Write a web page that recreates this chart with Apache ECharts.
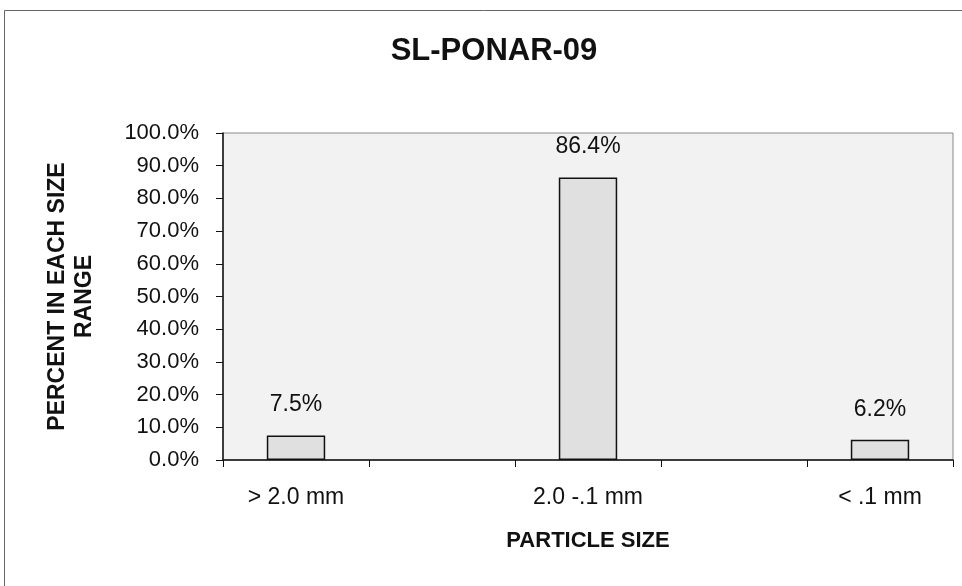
<!DOCTYPE html>
<html>
<head>
<meta charset="utf-8">
<script src="https://cdn.jsdelivr.net/npm/echarts@6/dist/echarts.min.js"></script>
<style>
  html, body { margin: 0; padding: 0; background: #ffffff; }
  #chart { width: 962px; height: 586px; }
</style>
</head>
<body>
<div id="chart"></div>
<script>
// Particle size distribution for sample SL-PONAR-09
const chartTitle = 'SL-PONAR-09';
const sizeClasses = ['> 2.0 mm', '2.0 -.1 mm', '< .1 mm'];
const percentInRange = [7.5, 86.4, 6.2];
const yTicks = { min: 0, max: 100, step: 10 };
const xTitle = 'PARTICLE SIZE';
const yTitle = 'PERCENT IN EACH SIZE\nRANGE';

// The category axis leaves an empty slot between each size class
const axisSlots = [];
const barValues = [];
sizeClasses.forEach((name, i) => {
  if (i > 0) { axisSlots.push(''); barValues.push(null); }
  axisSlots.push(name);
  barValues.push(percentInRange[i]);
});

const FONT = '"Liberation Sans", Arial, sans-serif';

const chart = echarts.init(document.getElementById('chart'), null, { renderer: 'canvas' });
chart.setOption({
  animation: false,
  backgroundColor: '#ffffff',
  title: {
    text: chartTitle,
    left: 489,
    top: 31,
    textAlign: 'center',
    textStyle: { fontFamily: FONT, fontWeight: 'bold', fontSize: 31, lineHeight: 31, color: '#111' }
  },
  graphic: [
    {
      type: 'rect',
      silent: true,
      shape: { x: 4.5, y: 10.5, width: 1000, height: 700 },
      style: { fill: null, stroke: '#666', lineWidth: 1 }
    }
  ],
  grid: {
    left: 223,
    right: 9,
    top: 133,
    bottom: 126,
    show: true,
    backgroundColor: '#f2f2f2',
    borderColor: '#8a8a8a',
    borderWidth: 1
  },
  xAxis: {
    type: 'category',
    data: axisSlots,
    name: xTitle,
    nameLocation: 'middle',
    nameGap: 70,
    nameTextStyle: { fontFamily: FONT, fontWeight: 'bold', fontSize: 22, color: '#111' },
    axisLine: { show: true, lineStyle: { color: '#111', width: 1.5 } },
    axisTick: { show: true, alignWithLabel: false, interval: 0, length: 7, lineStyle: { color: '#111' } },
    axisLabel: { interval: 0, margin: 26, fontFamily: FONT, fontSize: 23, color: '#111' },
    splitLine: { show: false }
  },
  yAxis: {
    type: 'value',
    min: yTicks.min,
    max: yTicks.max,
    interval: yTicks.step,
    name: yTitle,
    nameLocation: 'middle',
    nameRotate: 90,
    nameGap: 125,
    nameTextStyle: { fontFamily: FONT, fontWeight: 'bold', fontSize: 23, color: '#111', lineHeight: 27, align: 'center' },
    axisLine: { show: true, lineStyle: { color: '#111', width: 1.5 } },
    axisTick: { show: true, inside: false, length: 7, lineStyle: { color: '#111' } },
    axisLabel: {
      margin: 24,
      fontFamily: FONT,
      fontSize: 22,
      color: '#111',
      formatter: v => v.toFixed(1) + '%'
    },
    splitLine: { show: false }
  },
  series: [
    {
      type: 'bar',
      data: barValues,
      barWidth: '40%',
      itemStyle: { color: '#e0e0e0', borderColor: '#111', borderWidth: 1.5 },
      label: {
        show: true,
        position: 'top',
        distance: 19,
        fontFamily: FONT,
        fontSize: 23,
        color: '#111',
        formatter: p => p.value.toFixed(1) + '%'
      }
    }
  ]
});
</script>
</body>
</html>
